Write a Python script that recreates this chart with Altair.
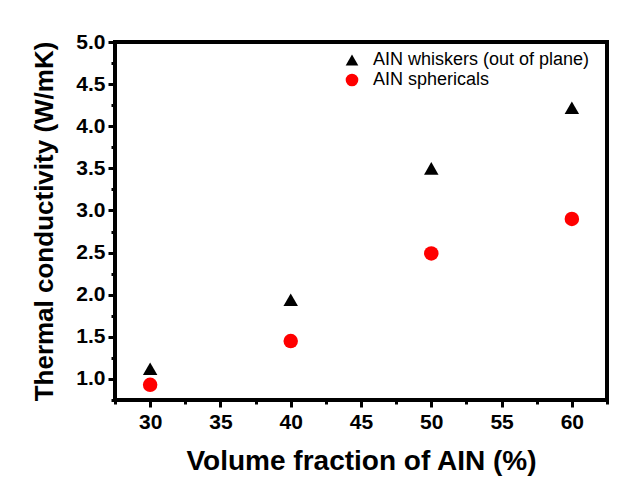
import altair as alt
import pandas as pd

# Data
fraction = [30, 40, 50, 60]
whiskers = [1.12, 1.94, 3.50, 4.22]
spherical = [0.93, 1.45, 2.49, 2.90]
series_names = ["AIN whiskers (out of plane)", "AIN sphericals"]

x_ticks = [27.5, 30, 32.5, 35, 37.5, 40, 42.5, 45, 47.5, 50, 52.5, 55, 57.5, 60, 62.5]
y_ticks = [0.75, 1.0, 1.25, 1.5, 1.75, 2.0, 2.25, 2.5, 2.75, 3.0, 3.25, 3.5, 3.75,
           4.0, 4.25, 4.5, 4.75, 5.0]
x_range = [27.5, 62.5]
y_range = [0.75, 5.0]

rows = []
for xv, yv in zip(fraction, whiskers):
    rows.append({"x": xv, "y": yv, "series": series_names[0]})
for xv, yv in zip(fraction, spherical):
    rows.append({"x": xv, "y": yv, "series": series_names[1]})
df = pd.DataFrame(rows)

FONT = "Liberation Sans"
x_scale = alt.Scale(domain=x_range, nice=False, zero=False)
y_scale = alt.Scale(domain=y_range, nice=False, zero=False)

x_axis = alt.Axis(
    orient="bottom",
    values=x_ticks,
    title="Volume fraction of AIN (%)",
    titleFont=FONT, titleFontSize=28, titleFontWeight="bold", titleColor="black",
    titlePadding=15,
    labelFont=FONT, labelFontSize=21, labelFontWeight="bold", labelColor="black",
    labelExpr="datum.value % 5 == 0 ? format(datum.value, 'd') : ''",
    labelPadding=4,
    tickSize={"condition": {"test": "datum.value % 5 != 0", "value": 4}, "value": 7},
    tickWidth=3, tickColor="black",
    domain=False,
    grid=False, labelFlush=False, labelOverlap=False,
)
y_axis = alt.Axis(
    orient="left",
    values=y_ticks,
    title="Thermal conductivity (W/mK)",
    titleFont=FONT, titleFontSize=26, titleFontWeight="bold", titleColor="black",
    titlePadding=18,
    labelFont=FONT, labelFontSize=21, labelFontWeight="bold", labelColor="black",
    labelExpr="round(datum.value*2) == datum.value*2 ? format(datum.value, '.1f') : ''",
    labelPadding=3,
    tickSize={"condition": {"test": "round(datum.value*2) != datum.value*2", "value": 4}, "value": 7},
    tickWidth=3, tickColor="black",
    domain=False,
    grid=False, labelFlush=False, labelOverlap=False,
)

legend = alt.Legend(
    title=None, orient="none", legendX=228, legendY=9,
    labelFont=FONT, labelFontSize=18, labelColor="black", labelLimit=0,
    labelOffset=12, symbolSize=160, rowPadding=2, padding=0,
    symbolStrokeWidth=0,
)

frame = alt.Chart(df).mark_rect(fill=None, stroke="black", strokeWidth=4).encode(
    x=alt.X(datum=x_range[0], type="quantitative", scale=x_scale, axis=x_axis),
    x2=alt.X2(datum=x_range[1]),
    y=alt.Y(datum=y_range[0], type="quantitative", scale=y_scale, axis=y_axis),
    y2=alt.Y2(datum=y_range[1]),
)

points = alt.Chart(df).mark_point(filled=True, opacity=1, size=210).encode(
    x=alt.X("x:Q", scale=x_scale, axis=x_axis),
    y=alt.Y("y:Q", scale=y_scale, axis=y_axis),
    shape=alt.Shape("series:N", scale=alt.Scale(domain=series_names, range=["triangle-up", "circle"]),
                    legend=legend),
    color=alt.Color("series:N", scale=alt.Scale(domain=series_names, range=["black", "#ff0000"]),
                    legend=legend),
)

chart = alt.layer(frame, points).properties(
    width=492, height=358,
    autosize=alt.AutoSizeParams(type="none"),
    padding={"left": 107, "top": 34, "right": 12, "bottom": 80},
    background="white",
).configure_view(stroke=None)

chart.save("out.html", embed_options={"renderer": "svg", "actions": False})
